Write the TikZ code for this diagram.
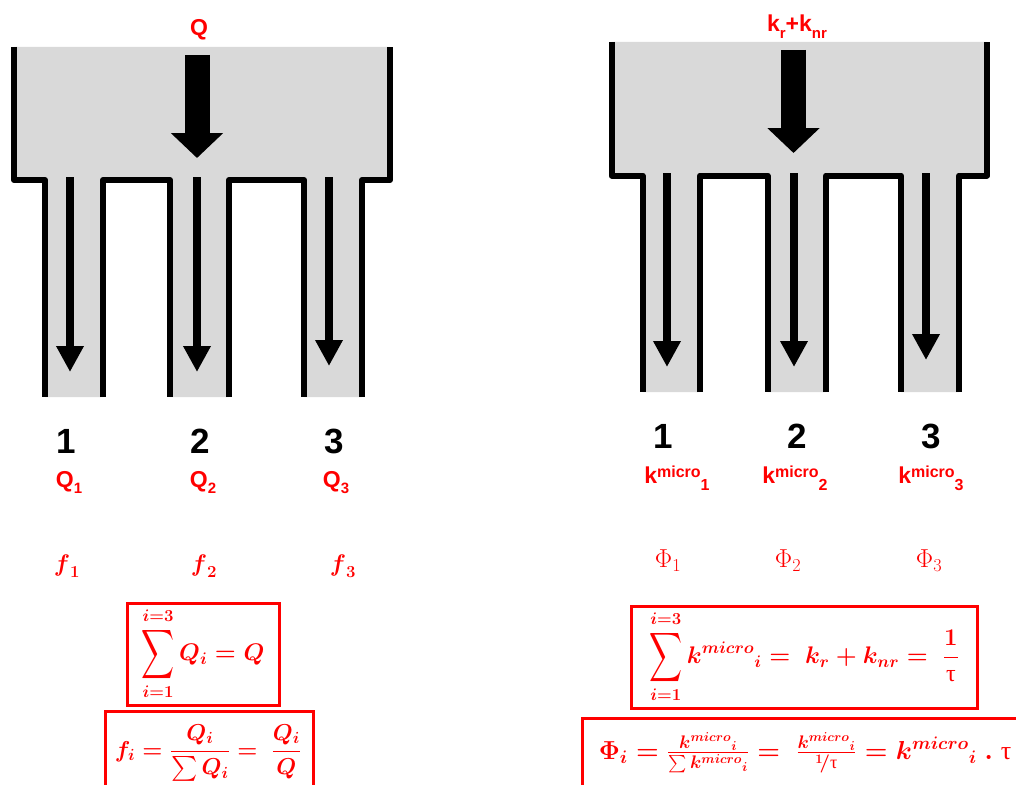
\RequirePackage{fix-cm}
\documentclass[tikz,border=0pt]{standalone}
\usepackage[no-math]{fontspec}
\usepackage{amsmath}
\usepackage{graphicx}
\usetikzlibrary{arrows.meta}
\newfontfamily\lab{Liberation Sans}
\newfontfamily\grk{Liberation Serif}
\definecolor{gfill}{HTML}{D9D9D9}
\newcommand\bigsum{\mathop{\vcenter{\hbox{\scalebox{0.92}[1.38]{$\displaystyle\sum$}}}}\limits}
\newcommand\tauu{\text{\grk\mdseries τ}}
\newcommand\km{{k^{micro}}}
\newcommand\lsub[1]{\raisebox{-6pt}{\fontsize{15}{15}\selectfont #1}}
\newcommand\kmic[1]{k\raisebox{6pt}{\fontsize{16}{16}\selectfont micro}\raisebox{-7pt}{\fontsize{16}{16}\selectfont #1}}
\begin{document}
\begin{tikzpicture}[x=1pt,y=-1pt,
  wall/.style={line width=6pt, line join=round},
  flow/.style={line width=7.5pt, -{Triangle[width=26pt,length=26pt]}},
  bigflow/.style={line width=25pt, -{Triangle[width=51pt,length=25pt]}},
  lbl/.style={text=red, font=\lab\bfseries\fontsize{23}{23}\selectfont, inner sep=0, anchor=base},
  num/.style={font=\lab\bfseries\fontsize{35}{35}\selectfont, inner sep=0, anchor=base},
  mlab/.style={text=red, inner sep=0, font=\fontsize{24}{28}\selectfont},
  plab/.style={text=red, inner sep=0, font=\fontsize{26}{30}\selectfont},
  eqbox/.style={draw=red, line width=3pt, inner sep=0, text=red},
  mth/.style={font=\fontsize{24}{28}\selectfont\mathversion{bold}}
]
\useasboundingbox (0,0) rectangle (1016,784);
\clip (0,0) rectangle (1016,784);

% ---------- left structure ----------
\fill[gfill] (14,47) -- (390,47) -- (390,180) -- (362,180) -- (362,397) -- (304,397) -- (304,180)
  -- (229,180) -- (229,397) -- (170,397) -- (170,180) -- (103,180) -- (103,397) -- (45,397)
  -- (45,180) -- (14,180) -- cycle;
\draw[wall] (14,47) -- (14,180) -- (45,180) -- (45,397);
\draw[wall] (103,397) -- (103,180) -- (170,180) -- (170,397);
\draw[wall] (229,397) -- (229,180) -- (304,180) -- (304,397);
\draw[wall] (362,397) -- (362,180) -- (390,180) -- (390,47);

\coordinate (LA0) at (197,55);  \coordinate (LA1) at (197,158);
\draw[bigflow] (LA0) -- (LA1);
\coordinate (L1s) at (70,177);  \coordinate (L1e) at (70,372);
\coordinate (L2s) at (197,177); \coordinate (L2e) at (197,372);
\coordinate (L3s) at (329,177); \coordinate (L3e) at (329,366);
\draw[flow] (L1s) -- (L1e);
\draw[flow] (L2s) -- (L2e);
\draw[flow] (L3s) -- (L3e);

\node[lbl] (Qtop) at (199,36) {Q};
\node[num] (ln1) at (66,453) {1};
\node[num] (ln2) at (200,453) {2};
\node[num] (ln3) at (334,453) {3};
\node[lbl] (Q1) at (69,487) {Q\lsub{1}};
\node[lbl] (Q2) at (203,487) {Q\lsub{2}};
\node[lbl] (Q3) at (336,487) {Q\lsub{3}};
\node[mlab] (fa) at (67,566) {$\boldsymbol{f}_{\boldsymbol{1}}$};
\node[mlab] (fb) at (204,566) {$\boldsymbol{f}_{\boldsymbol{2}}$};
\node[mlab] (fc) at (343,566) {$\boldsymbol{f}_{\boldsymbol{3}}$};

% ---------- right structure ----------
\fill[gfill] (611.5,42) -- (987,42) -- (987,175.5) -- (959,175.5) -- (959,392) -- (901,392) -- (901,175.5)
  -- (826,175.5) -- (826,392) -- (767.5,392) -- (767.5,175.5) -- (700,175.5) -- (700,392) -- (642.5,392)
  -- (642.5,175.5) -- (611.5,175.5) -- cycle;
\draw[wall] (611.5,42) -- (611.5,175.5) -- (642.5,175.5) -- (642.5,392);
\draw[wall] (700,392) -- (700,175.5) -- (767.5,175.5) -- (767.5,392);
\draw[wall] (826,392) -- (826,175.5) -- (901,175.5) -- (901,392);
\draw[wall] (959,392) -- (959,175.5) -- (987,175.5) -- (987,42);

\coordinate (RA0) at (793.5,50);  \coordinate (RA1) at (793.5,153);
\draw[bigflow] (RA0) -- (RA1);
\coordinate (R1s) at (667,173);  \coordinate (R1e) at (667,367);
\coordinate (R2s) at (794,173);  \coordinate (R2e) at (794,367);
\coordinate (R3s) at (926,173);  \coordinate (R3e) at (926,360);
\draw[flow] (R1s) -- (R1e);
\draw[flow] (R2s) -- (R2e);
\draw[flow] (R3s) -- (R3e);

\node[lbl] (Ktop) at (797,32) {k\lsub{r}+k\lsub{nr}};
\node[num] (rn1) at (663,448) {1};
\node[num] (rn2) at (797,448) {2};
\node[num] (rn3) at (931,448) {3};
\node[lbl] (k1) at (677,483) {\kmic{1}};
\node[lbl] (k2) at (795,483) {\kmic{2}};
\node[lbl] (k3) at (931,483) {\kmic{3}};
\node[plab] (pa) at (668,561) {$\Phi_1$};
\node[plab] (pb) at (788,561) {$\Phi_2$};
\node[plab] (pc) at (929,561) {$\Phi_3$};

% ---------- formula boxes ----------
\node[eqbox, mth, minimum width=152pt, minimum height=102pt] (EL1) at (203,654)
  {$\displaystyle \bigsum_{i=1}^{i=3} Q_i = Q$};
\node[eqbox, minimum width=208pt, minimum height=89pt] (EL2) at (209,755.5) {};
\node[text=red, inner sep=0, font=\fontsize{23}{27}\selectfont\mathversion{bold}] (EL2t) at (208,753)
  {$\displaystyle f_i = \frac{Q_i}{\sum Q_i} =\ \frac{Q_i}{Q}$};
\node[eqbox, mth, minimum width=346pt, minimum height=102pt] (ER1) at (804,657)
  {$\displaystyle \bigsum_{i=1}^{i=3} \km_i =\ k_r + k_{nr} =\ \frac{1}{\tauu}$};
\node[eqbox, minimum width=448pt, minimum height=77pt] (ER2) at (806,756.5) {};
\node[font=\fontsize{26}{30}\selectfont\mathversion{bold}, text=red, inner sep=0] (ER2t) at (805,753)
  {$\Phi_i = \frac{\km_i}{\sum \km_i} =\ \frac{\km_i}{{}^{1}\!/\tauu} = \km_i\ .\ \tauu$};
\end{tikzpicture}
\end{document}
